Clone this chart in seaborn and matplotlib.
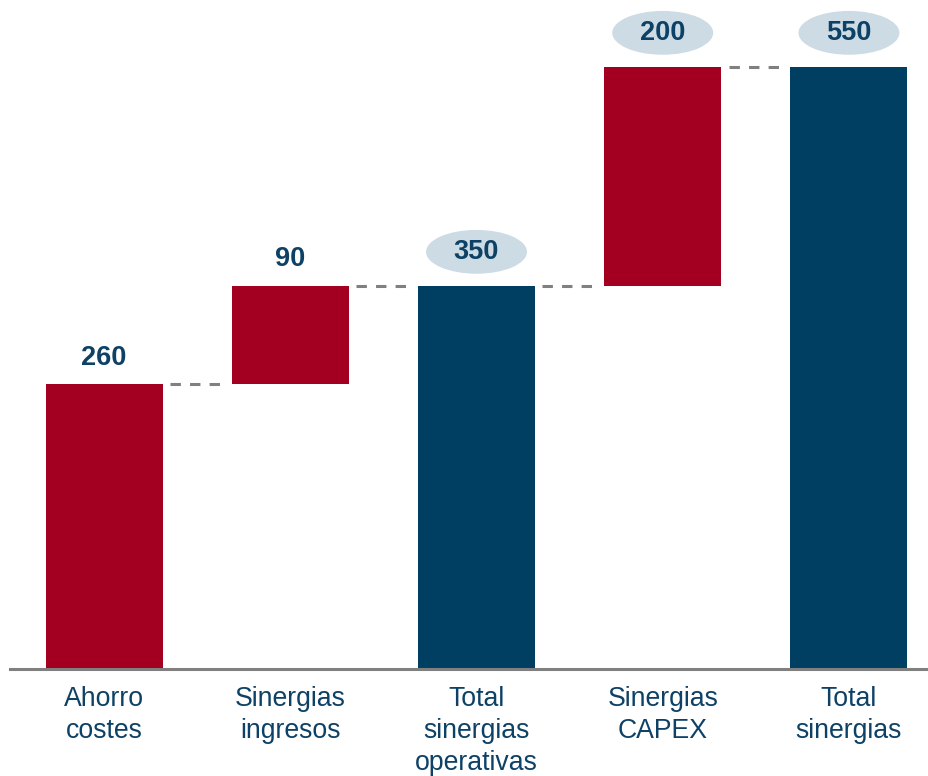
import matplotlib
matplotlib.use("Agg")
import matplotlib.pyplot as plt
from matplotlib.patches import Ellipse
import seaborn as sns
import numpy as np

categories = ["Ahorro\ncostes", "Sinergias\ningresos", "Total\nsinergias\noperativas",
              "Sinergias\nCAPEX", "Total\nsinergias"]
values = [260, 90, 350, 200, 550]
is_total = [False, False, True, False, True]

red = "#a30021"
blue = "#003f62"
text_blue = "#0d4166"
oval = "#cddbe5"

# waterfall bases / heights
bases, heights, levels = [], [], []
running = 0
for v, t in zip(values, is_total):
    if t:
        bases.append(0)
        heights.append(v)
        running = v
    else:
        bases.append(running)
        heights.append(v)
        running += v
    levels.append(running)

sns.set_style("white")
plt.rcParams["font.family"] = ["Liberation Sans", "DejaVu Sans"]

fig = plt.figure(figsize=(9.29, 7.76), dpi=100)
ax = fig.add_axes([0.0108, 0.1379, 0.9892, 0.8621])

x = np.arange(len(categories))
sns.barplot(x=x, y=heights, bottom=bases, color=red, width=0.628,
            errorbar=None, ax=ax, saturation=1, native_scale=True)
for p, t in zip(ax.patches, is_total):
    p.set_facecolor(blue if t else red)
    p.set_edgecolor("none")

# connectors
half = 0.628 / 2
for i in range(len(values) - 1):
    ax.plot([x[i] + half + 0.04, x[i + 1] - half - 0.06], [levels[i], levels[i]],
            color="#808080", lw=2.2, dashes=(3.4, 3.0), zorder=1)

# value labels
for i, (v, t) in enumerate(zip(values, is_total)):
    top = bases[i] + heights[i]
    if t or i == 3:
        ax.add_patch(Ellipse((x[i], top + 31), 0.542, 40, facecolor=oval,
                             edgecolor="none", zorder=3))
        ax.text(x[i], top + 31, str(v), ha="center", va="center", fontsize=19.5,
                fontweight="bold", color=text_blue, zorder=4)
    else:
        ax.text(x[i], top + 24, str(v), ha="center", va="center", fontsize=19.5,
                fontweight="bold", color=text_blue, zorder=4)

ax.set_xlim(-0.505, 4.43)
ax.set_ylim(0, 611)
ax.set_xticks(x)
ax.set_xticklabels(categories, fontsize=19.2, color=text_blue, linespacing=1.32)
ax.tick_params(axis="x", length=0, pad=12)
ax.set_yticks([])
ax.set_xlabel("")
ax.set_ylabel("")
for s in ["top", "left", "right"]:
    ax.spines[s].set_visible(False)
ax.spines["bottom"].set_color("#808080")
ax.spines["bottom"].set_linewidth(2.2)

fig.savefig("out.png", dpi=100)
